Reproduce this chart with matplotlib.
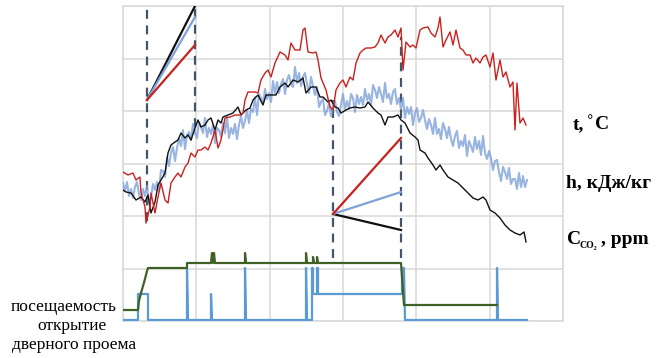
import matplotlib
matplotlib.use("Agg")
import matplotlib.pyplot as plt
import numpy as np

# ---- data (arbitrary units; x = time, y = relative level) ----
t_x = [0, 5, 10, 13, 17, 18, 22, 23, 27, 28, 32, 35, 38, 42, 45, 48, 52, 55, 58, 62, 65, 68, 72, 75, 78, 82, 85, 88, 92, 95, 98,
       102, 107, 112, 117, 120, 122, 125, 132, 135, 138, 142, 145, 148, 152, 157, 162, 165, 168, 172, 177, 180, 182, 185, 190, 193,
       195, 198, 203, 207, 210, 213, 217, 220, 223, 227, 230, 233, 237, 240, 243, 248, 252, 255, 258, 262, 265, 268, 272, 275, 278,
       280, 283, 287, 290, 293, 297, 300, 305, 308, 312, 315, 317, 320, 323, 327, 330, 333, 337, 340, 343, 347, 350, 353, 357, 360,
       363, 367, 370, 373, 377, 380, 383, 387, 390, 392, 394, 397, 400, 403]
t_y = [149, 146, 148, 141, 144, 128, 114, 98, 114, 128, 108, 124, 138, 121, 118, 138, 144, 148, 144, 154, 158, 168, 164, 171, 171, 174, 171, 178, 191, 173, 181,
       203, 204, 206, 206, 208, 221, 229, 229, 228, 241, 248, 251, 244, 258, 269, 266, 261, 278, 271, 271, 291, 293, 269, 268, 269,
       261, 243, 231, 214, 211, 231, 238, 241, 234, 244, 241, 258, 268, 271, 273, 273, 274, 278, 286, 278, 284, 286, 291, 284, 293,
       251, 279, 274, 276, 273, 291, 293, 294, 288, 284, 293, 304, 274, 281, 289, 276, 291, 273, 271, 266, 266, 258, 263, 258, 264,
       266, 254, 268, 241, 261, 244, 249, 234, 239, 191, 238, 198, 203, 196]

co2_x = [0, 3, 8, 13, 18, 22, 25, 28, 32, 35, 38, 42, 45, 48, 52, 55, 58, 62, 65, 68, 72, 75, 78, 82, 85, 88, 92, 95, 98, 100,
         105, 110, 115, 118, 123, 127, 130, 135, 140, 143, 148, 153, 157, 162, 165, 170, 175, 180, 183, 188, 193, 197, 200, 205,
         208, 212, 215, 218, 223, 227, 232, 237, 242, 245, 250, 255, 258, 262, 265, 270, 275, 278, 282, 287, 292, 295, 297, 302,
         305, 310, 313, 317, 320, 325, 330, 335, 340, 345, 350, 355, 360, 363, 367, 372, 377, 382, 387, 392, 397, 401, 403]
co2_y = [131, 129, 128, 121, 124, 119, 126, 108, 119, 136, 141, 148, 168, 176, 179, 181, 188, 183, 186, 181, 193, 201, 194, 196, 201, 203, 191, 201, 198, 204,
         206, 208, 214, 206, 211, 213, 221, 226, 216, 226, 226, 226, 234, 238, 234, 241, 239, 243, 228, 234, 234, 224, 224, 219,
         221, 214, 213, 208, 211, 213, 214, 213, 214, 219, 213, 208, 206, 196, 204, 204, 206, 201, 198, 188, 184, 181, 171, 168,
         163, 156, 151, 156, 151, 144, 141, 138, 133, 128, 123, 121, 124, 121, 111, 108, 103, 96, 91, 88, 86, 89, 79]

h_x = list(range(0, 405, 2))
h_y = [138, 130, 139, 125, 132, 123, 134, 139, 127, 121, 132, 125, 135, 117, 124, 137, 131, 139, 130, 151,
       150, 144, 164, 155, 168, 174, 160, 173, 183, 175, 191, 172, 186, 189, 181, 197, 188, 183, 199, 194,
       188, 203, 184, 193, 187, 196, 178, 193, 191, 184, 198, 188, 204, 183, 193, 187, 197, 182, 196, 205,
       193, 200, 211, 198, 212, 209, 224, 206, 227, 223, 217, 232, 222, 228, 219, 240, 227, 239, 228, 237,
       242, 227, 241, 246, 237, 234, 254, 238, 248, 235, 244, 248, 237, 228, 244, 235, 226, 234, 214, 219,
       222, 206, 210, 218, 205, 217, 220, 209, 205, 216, 227, 212, 220, 212, 227, 223, 209, 226, 217, 224,
       216, 232, 221, 227, 216, 236, 231, 223, 234, 227, 219, 238, 223, 227, 217, 229, 232, 217, 223, 212,
       223, 203, 214, 207, 214, 196, 208, 213, 199, 203, 211, 201, 192, 202, 196, 187, 203, 187, 192, 182,
       198, 192, 183, 194, 182, 175, 185, 190, 173, 180, 175, 186, 165, 180, 175, 169, 184, 172, 180, 166,
       185, 168, 162, 170, 163, 151, 160, 161, 149, 140, 154, 149, 142, 153, 137, 142, 142, 132, 148, 134,
       145, 134, 141]

# rate-of-change sketches (start level, end levels: t, h, CO2)
seg1_x = [24, 72]
seg1_start = 221
seg1_end = {"t": 276, "h": 304, "co2": 315}
seg2_x = [210, 278]
seg2_start = 107
seg2_end = {"t": 183, "h": 129, "co2": 91}

# dashed markers: (x, y_bottom, y_top)
dash_marks = [(24, 100, 312), (72, 194, 312), (210, 63, 221), (278, 63, 284)]

occ_x = [0, 15, 16, 18, 20, 22, 24, 25, 64, 64, 88, 89, 90, 91, 92, 122, 122, 123, 183, 183, 184, 190, 190, 191, 194, 194, 195, 278, 281, 374]
occ_y = [11, 11, 20, 28, 35, 42, 50, 53, 53, 58, 58, 68, 58, 68, 58, 58, 68, 58, 58, 68, 58, 58, 64, 58, 58, 64, 58, 58, 16, 16]

door_x = [0, 15, 15, 25, 25, 64, 64, 65, 88, 88, 89, 122, 122, 123, 183, 183, 184, 189, 189, 190, 190, 194, 194, 195, 195, 279, 279, 281, 282, 374, 374, 375, 404]
door_y = [1, 1, 27, 27, 1, 1, 53, 1, 1, 27, 1, 1, 53, 1, 1, 53, 1, 1, 53, 53, 27, 27, 53, 53, 27, 27, 53, 53, 1, 1, 53, 1, 1]

# ---- figure ----
W, H = 663, 358
fig = plt.figure(figsize=(W / 100, H / 100), dpi=100)
ax = fig.add_axes([123 / W, 1 - 321 / H, 440 / W, 315 / H])
ax.set_xlim(0, 440)
ax.set_ylim(0, 315)
ax.set_xticks(np.arange(0, 441, 440 / 6))
ax.set_yticks(np.arange(0, 316, 52.5))
ax.tick_params(length=0, labelbottom=False, labelleft=False)
ax.grid(True, color="#D9D9D9", lw=1.1)
for s in ax.spines.values():
    s.set_color("#D9D9D9")
    s.set_linewidth(1.1)
ax.set_axisbelow(True)

RED = "#C9211E"
BLUE_H = "#7EA1DA"
BLK = "#111111"
GREEN = "#3F6125"
DOOR = "#5B9BD5"
DASH = "#44546A"

for x, y0, y1 in dash_marks:
    ax.plot([x, x], [y0, y1], color=DASH, lw=1.6, ls=(0, (4, 3)), zorder=2)

ax.plot(h_x, h_y, color=BLUE_H, lw=1.5, alpha=0.8, zorder=3)
ax.plot(co2_x, co2_y, color=BLK, lw=1.0, zorder=4)
ax.plot(t_x, t_y, color=RED, lw=1.0, zorder=5)

for start, xs, ends in [(seg1_start, seg1_x, seg1_end), (seg2_start, seg2_x, seg2_end)]:
    ax.plot(xs, [start, ends["co2"]], color=BLK, lw=1.6, zorder=6)
    ax.plot(xs, [start, ends["h"]], color=BLUE_H, lw=1.6, zorder=6)
    ax.plot(xs, [start, ends["t"]], color=RED, lw=1.6, zorder=6)

ax.plot(door_x, door_y, color=DOOR, lw=1.6, zorder=4)
ax.plot(occ_x, occ_y, color=GREEN, lw=1.6, zorder=5)

serif = ["Liberation Serif", "DejaVu Serif"]
fs = 14
fig.text(573 / W, 1 - 125 / H, "t,", family=serif, weight="bold", fontsize=fs, va="center", ha="left")
fig.text(585 / W, 1 - 125 / H, "$^{\\circ}$C", family=serif, weight="bold", fontsize=fs, va="center", ha="left")
fig.text(566 / W, 1 - 184 / H, "h, кДж/кг", family=serif, weight="bold", fontsize=fs, va="center", ha="left")
fig.text(567 / W, 1 - 239 / H, "C", family=serif, weight="bold", fontsize=fs, va="center", ha="left")
fig.text(580 / W, 1 - 246 / H, "CO\u2082", family=serif, weight="bold", fontsize=7, va="center", ha="left")
fig.text(601 / W, 1 - 239 / H, ", ppm", family=serif, weight="bold", fontsize=fs, va="center", ha="left")

lfs = 12.5
fig.text(64 / W, 1 - 307 / H, "посещаемость", family=serif, fontsize=lfs, va="center", ha="center")
fig.text(72 / W, 1 - 326 / H, "открытие", family=serif, fontsize=lfs, va="center", ha="center")
fig.text(74 / W, 1 - 345 / H, "дверного проема", family=serif, fontsize=lfs, va="center", ha="center")

fig.savefig("out.png", dpi=100)
